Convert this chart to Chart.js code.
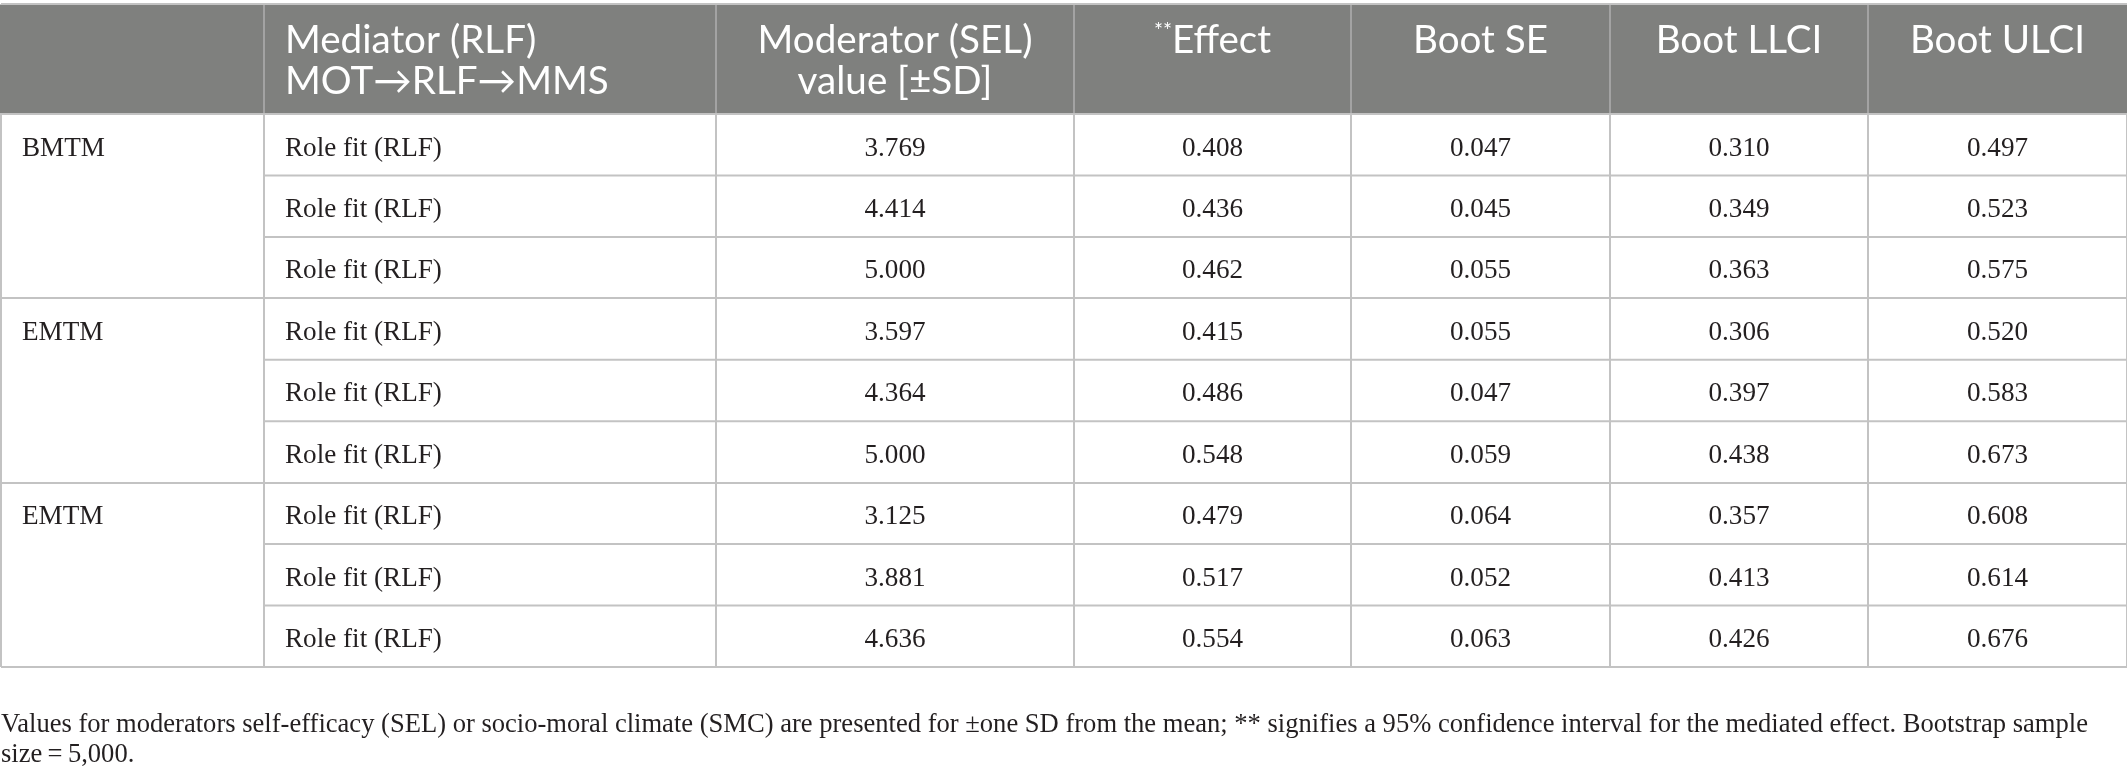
<!DOCTYPE html>
<html>
<head>
<meta charset="utf-8">
<script src="https://cdn.jsdelivr.net/npm/chart.js@4.4.1/dist/chart.umd.min.js"></script>
<style>
  html, body { margin: 0; padding: 0; background: #fff; }
  canvas { display: block; }
</style>
</head>
<body>
<canvas id="tableChart" width="2127" height="782"></canvas>
<script>
// =========== table data ==============
var headerLine1 = ['', 'Mediator (RLF)', 'Moderator (SEL)', 'Effect', 'Boot SE', 'Boot LLCI', 'Boot ULCI'];
var headerLine2 = ['', 'MOT\u2192RLF\u2192MMS', 'value [\u00b1SD]', '', '', '', ''];
var headerMarks = ['', '', '', '**', '', '', ''];

var groupNames = ['BMTM', 'EMTM', 'EMTM'];
var groupRows = [0, 3, 6];

var mediators = [
  'Role fit (RLF)', 'Role fit (RLF)', 'Role fit (RLF)',
  'Role fit (RLF)', 'Role fit (RLF)', 'Role fit (RLF)',
  'Role fit (RLF)', 'Role fit (RLF)', 'Role fit (RLF)'
];
var moderatorValues = [3.769, 4.414, 5.000, 3.597, 4.364, 5.000, 3.125, 3.881, 4.636];
var effects   = [0.408, 0.436, 0.462, 0.415, 0.486, 0.548, 0.479, 0.517, 0.554];
var bootSE    = [0.047, 0.045, 0.055, 0.055, 0.047, 0.059, 0.064, 0.052, 0.063];
var bootLLCI  = [0.310, 0.349, 0.363, 0.306, 0.397, 0.438, 0.357, 0.413, 0.426];
var bootULCI  = [0.497, 0.523, 0.575, 0.520, 0.583, 0.673, 0.608, 0.614, 0.676];

var footnote = [
  'Values for moderators self-efficacy (SEL) or socio-moral climate (SMC) are presented for \u00b1one SD from the mean; ** signifies a 95% confidence interval for the mediated effect. Bootstrap sample',
  'size\u2009=\u20095,000.'
];

// =========== layout (reference pixels) ==============
var colEdges = [0, 263, 715, 1073, 1350, 1609, 1867, 2126];
var rowCount = 9;
var headerRows = 110 / 61.44;   // header height measured in body rows
var groupLines = [0, 3, 6, 9];
var innerLines = [1, 2, 4, 5, 7, 8];

var SERIF = '"Liberation Serif", "DejaVu Serif", serif';
var SANS = 'Lato, "Open Sans", "DejaVu Sans", sans-serif';
var TEXT = '#231f20';
var LINE = '#c3c3c3';
var HEAD_BG = '#7f807e';

// fit font sizes to measured widths in the reference
var meas = document.createElement('canvas').getContext('2d');
function fitSize(family, text, width) {
  meas.font = '100px ' + family;
  return 100 * width / meas.measureText(text).width;
}
var bodySize = fitSize(SERIF, 'Role fit (RLF)', 157);
var headSize = fitSize(SANS, 'Moderator (SEL)', 275);
var noteSize = fitSize(SERIF, footnote[0], 2088);

function fmt(v) { return v.toFixed(3); }
function colCenter(c) { return (colEdges[c] + colEdges[c + 1]) / 2; }
function colLeft(c) { return colEdges[c] + 21; }

var allRows = [0, 1, 2, 3, 4, 5, 6, 7, 8];

// one invisible scatter dataset per column, text is drawn on its points
function makeColumn(c, texts, rows, align) {
  return {
    type: 'scatter',
    label: 'col' + c,
    texts: texts,
    align: align,
    data: rows.map(function (r) {
      return { x: align === 'left' ? colLeft(c) : colCenter(c), y: r + 0.5 };
    }),
    pointRadius: 0,
    pointHoverRadius: 0
  };
}

var datasets = [
  makeColumn(0, groupNames, groupRows, 'left'),
  makeColumn(1, mediators, allRows, 'left'),
  makeColumn(2, moderatorValues.map(fmt), allRows, 'center'),
  makeColumn(3, effects.map(fmt), allRows, 'center'),
  makeColumn(4, bootSE.map(fmt), allRows, 'center'),
  makeColumn(5, bootLLCI.map(fmt), allRows, 'center'),
  makeColumn(6, bootULCI.map(fmt), allRows, 'center')
];

var tablePlugin = {
  id: 'tablePlugin',
  beforeDatasetsDraw: function (chart) {
    var ctx = chart.ctx;
    var xs = chart.scales.x, ys = chart.scales.y;
    var top = ys.getPixelForValue(-headerRows);
    var bottom = ys.getPixelForValue(0);
    var left = xs.getPixelForValue(0), right = xs.getPixelForValue(2126);
    ctx.save();
    // header band
    ctx.fillStyle = HEAD_BG;
    ctx.fillRect(left - 1, top + 1, right - left + 2, bottom - top - 2);
    ctx.strokeStyle = '#a3a3a3';
    ctx.lineWidth = 2;
    for (var c = 1; c < colEdges.length - 1; c++) {
      var px = xs.getPixelForValue(colEdges[c]);
      ctx.beginPath();
      ctx.moveTo(px, top + 1);
      ctx.lineTo(px, bottom - 1);
      ctx.stroke();
    }
    // row lines inside groups start after the first column
    ctx.strokeStyle = LINE;
    innerLines.forEach(function (r) {
      var py = ys.getPixelForValue(r);
      ctx.beginPath();
      ctx.moveTo(xs.getPixelForValue(colEdges[1]), py);
      ctx.lineTo(right + 1, py);
      ctx.stroke();
    });
    // header text
    ctx.fillStyle = '#ffffff';
    ctx.textBaseline = 'alphabetic';
    ctx.font = headSize + 'px ' + SANS;
    var h = bottom - top;
    for (var i = 1; i < headerLine1.length; i++) {
      var align = i === 1 ? 'left' : 'center';
      var x = xs.getPixelForValue(align === 'left' ? colLeft(i) : colCenter(i));
      var y1 = top + h * 0.445, y2 = top + h * 0.82;
      ctx.font = headSize + 'px ' + SANS;
      if (headerMarks[i]) {
        var wMain = ctx.measureText(headerLine1[i]).width;
        ctx.font = (headSize * 0.55) + 'px ' + SANS;
        var wMark = ctx.measureText(headerMarks[i]).width;
        var start = x - (wMain + wMark) / 2;
        ctx.textAlign = 'left';
        ctx.fillText(headerMarks[i], start, y1 - headSize * 0.4);
        ctx.font = headSize + 'px ' + SANS;
        ctx.fillText(headerLine1[i], start + wMark, y1);
      } else {
        ctx.textAlign = align;
        ctx.fillText(headerLine1[i], x, y1);
      }
      if (headerLine2[i]) {
        ctx.textAlign = align;
        ctx.fillText(headerLine2[i], x, y2);
      }
    }
    ctx.restore();
  },
  afterDatasetsDraw: function (chart) {
    var ctx = chart.ctx;
    ctx.save();
    ctx.fillStyle = TEXT;
    ctx.font = bodySize + 'px ' + SERIF;
    ctx.textBaseline = 'alphabetic';
    chart.data.datasets.forEach(function (ds, i) {
      var meta = chart.getDatasetMeta(i);
      ctx.textAlign = ds.align;
      meta.data.forEach(function (pt, j) {
        ctx.fillText(ds.texts[j], pt.x, pt.y + bodySize * 0.4);
      });
    });
    ctx.restore();
  }
};

var config = {
  type: 'scatter',
  data: { datasets: datasets },
  options: {
    responsive: false,
    animation: false,
    events: [],
    layout: { padding: { left: 1, right: 0, top: 4, bottom: 0 } },
    plugins: {
      legend: { display: false },
      tooltip: { enabled: false },
      title: {
        display: true,
        position: 'bottom',
        align: 'start',
        text: footnote,
        color: TEXT,
        font: { family: SERIF, size: noteSize, weight: 'normal', lineHeight: 30 / noteSize },
        padding: { top: 43, bottom: 12 }
      }
    },
    scales: {
      x: {
        type: 'linear',
        min: 0,
        max: 2126,
        afterBuildTicks: function (scale) {
          scale.ticks = colEdges.map(function (v) { return { value: v }; });
        },
        ticks: { display: false },
        border: { display: false },
        grid: { color: LINE, lineWidth: 2, drawTicks: false }
      },
      y: {
        type: 'linear',
        reverse: true,
        min: -headerRows,
        max: rowCount,
        afterBuildTicks: function (scale) {
          scale.ticks = [-headerRows].concat(groupLines).map(function (v) { return { value: v }; });
        },
        ticks: { display: false },
        border: { display: false },
        grid: { color: LINE, lineWidth: 2, drawTicks: false }
      }
    }
  },
  plugins: [tablePlugin]
};

var ctx = document.getElementById('tableChart').getContext('2d');
var tableChart = new Chart(ctx, config);
</script>
</body>
</html>
